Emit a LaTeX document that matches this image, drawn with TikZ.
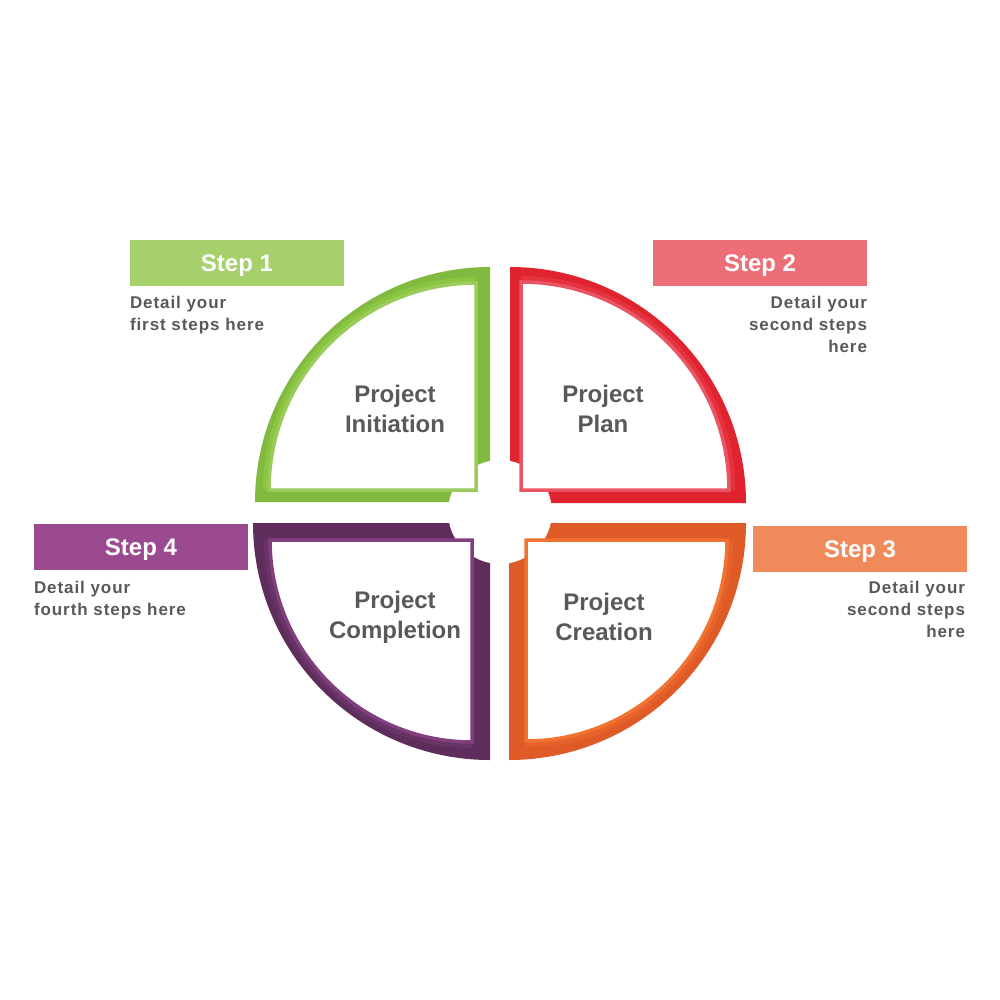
\documentclass[tikz,border=0pt]{standalone}
\usepackage{fontspec}
\setmainfont{Liberation Sans}
\newfontfamily\detailfont[LetterSpace=5.5]{Liberation Sans}
\usetikzlibrary{positioning}

\definecolor{txtgray}{HTML}{595959}
\definecolor{grnDark}{HTML}{80BB3F}
\definecolor{grnMid}{HTML}{8CC542}
\definecolor{grnLight}{HTML}{9ACB5B}
\definecolor{grnStep}{HTML}{A5D06B}
\definecolor{redDark}{HTML}{E0242F}
\definecolor{redMid}{HTML}{E4333F}
\definecolor{redLight}{HTML}{EA5564}
\definecolor{redStep}{HTML}{EC6F78}
\definecolor{orgDark}{HTML}{DE5A26}
\definecolor{orgMid}{HTML}{E6622A}
\definecolor{orgLight}{HTML}{F07332}
\definecolor{orgStep}{HTML}{F08A5B}
\definecolor{purDark}{HTML}{5F2D5C}
\definecolor{purMid}{HTML}{683366}
\definecolor{purLight}{HTML}{813F7E}
\definecolor{purStep}{HTML}{9B4A90}

\begin{document}
\begin{tikzpicture}[
    x=1pt, y=-1pt,
    node distance=10pt,
    stepbox/.style={rectangle, minimum width=214pt, minimum height=46pt, inner sep=0pt, text depth=0pt, font=\fontsize{24}{28}\selectfont\bfseries, text=white},
    detail/.style={inner sep=0pt, font=\detailfont\fontsize{17}{22}\selectfont\bfseries, text=txtgray},
    phase/.style={align=center, inner sep=0pt, font=\fontsize{24}{30}\selectfont\bfseries, text=txtgray},
    innerpart/.style={fill=white, line width=3.5pt, line join=miter}
]
\useasboundingbox (0,0) rectangle (1000,1000);

% Outer quarters
\fill[grnDark] (490,502) -- (255,502) arc[start angle=180, end angle=270, radius=235] -- cycle;
\fill[redDark] (510,503) -- (510,267) arc[start angle=270, end angle=360, radius=236] -- cycle;
\fill[orgDark] (509,523) -- (746,523) arc[start angle=0, end angle=90, radius=237] -- cycle;
\fill[purDark] (490,523) -- (490,760) arc[start angle=90, end angle=180, radius=237] -- cycle;

% Lighter bands
\fill[grnMid] (476,490) -- (263,490) arc[start angle=180, end angle=270, radius=213] -- cycle;
\fill[redMid] (521,490) -- (521,276) arc[start angle=270, end angle=360, radius=214] -- cycle;
\fill[orgMid] (526,540) -- (733,540) arc[start angle=0, end angle=90, radius=207] -- cycle;
\fill[purMid] (472,540) -- (472,748) arc[start angle=90, end angle=180, radius=208] -- cycle;

% Centre hole
\fill[white] (500,512) circle[radius=52];

% Inner white parts
\filldraw[innerpart, draw=grnLight] (476,490) -- (269,490) arc[start angle=180, end angle=270, radius=207] -- cycle;
\filldraw[innerpart, draw=redLight] (521,490) -- (521,282) arc[start angle=270, end angle=360, radius=208] -- cycle;
\filldraw[innerpart, draw=orgLight] (526,540) -- (727,540) arc[start angle=0, end angle=90, radius=201] -- cycle;
\filldraw[innerpart, draw=purLight] (472,540) -- (472,742) arc[start angle=90, end angle=180, radius=202] -- cycle;

% Phase names
\node[phase] (init) at (395,409) {Project\\Initiation};
\node[phase] (plan) at (603,409) {Project\\Plan};
\node[phase] (creat) at (604,617) {Project\\Creation};
\node[phase] (compl) at (395,617) {Project\\Completion};

% Step boxes
\node[stepbox, fill=grnStep] (step1) at (237,263) {Step 1};
\node[stepbox, fill=redStep] (step2) at (760,263) {Step 2};
\node[stepbox, fill=orgStep] (step3) at (860,549) {Step 3};
\node[stepbox, fill=purStep] (step4) at (141,547) {Step 4};

% Step details
\node[detail, align=left, below right=10pt and 0pt of step1.south west] (det1) {Detail your\\first steps here};
\node[detail, align=right, below left=10pt and 0pt of step2.south east] (det2) {Detail your\\second steps\\here};
\node[detail, align=right, below left=9pt and 2pt of step3.south east] (det3) {Detail your\\second steps\\here};
\node[detail, align=left, below right=11pt and 0pt of step4.south west] (det4) {Detail your\\fourth steps here};

\end{tikzpicture}
\end{document}
